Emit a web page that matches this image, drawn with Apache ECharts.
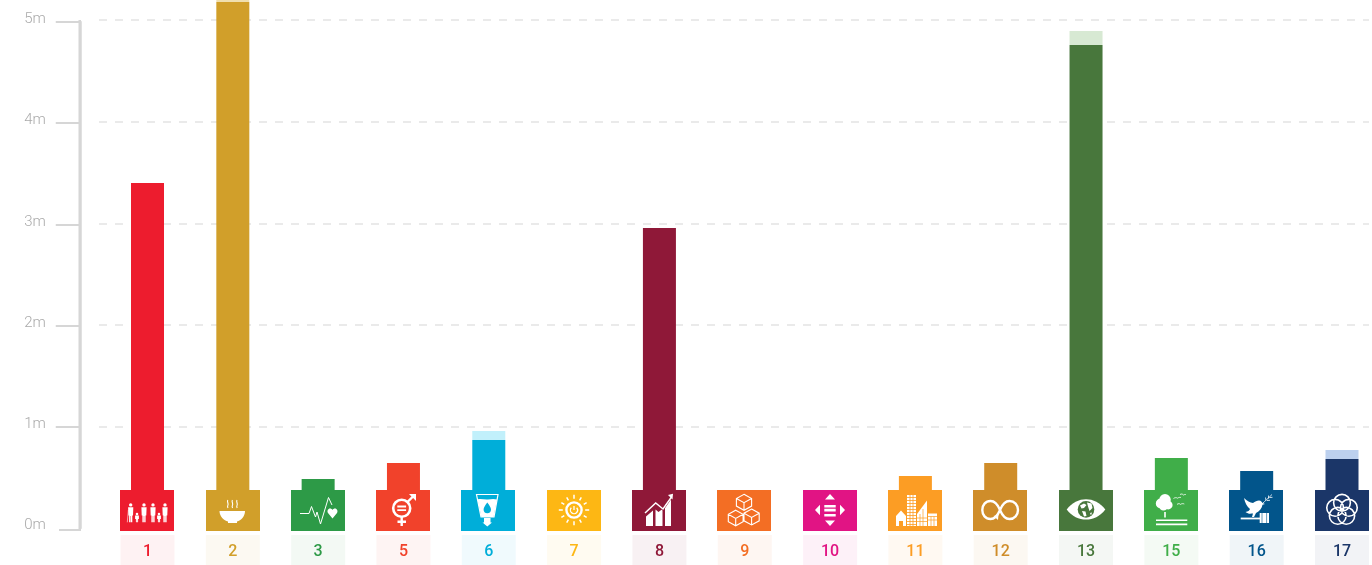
<!DOCTYPE html>
<html><head><meta charset="utf-8">
<style>html,body{margin:0;padding:0;background:#fff}#c{width:1372px;height:565px}</style>
<script src="https://cdn.jsdelivr.net/npm/echarts@6/dist/echarts.min.js"></script>
</head><body><div id="c"></div>
<script>
const categories = ['1','2','3','5','6','7','8','9','10','11','12','13','15','16','17'];
const mainValues = [3.409,5.198,0.484,0.642,0.870,0,2.964,0,0,0.514,0.642,4.773,0.692,0.563,0.682];
const extraValues = [0,0.03,0,0,0.089,0,0,0,0,0,0,0.138,0,0,0.089];
const goalColors = ['#ed1c2e','#d19f2a','#2d9a47','#f1422b','#00aed9','#fdb714','#8f1838','#f36e24','#e11484','#fc9d24','#cf8d2a','#48773c','#40ae49','#02558b','#1b3668'];
const extraColors = ['#f9c6cb','#f0dfae','#c5e8cd','#fbcfc9','#c1f0fb','#ffedc2','#e3c5ce','#fcdcc8','#f8c5e0','#fee6c8','#f2e2ca','#d7e9d3','#cfebd2','#c0d5e2','#bcd0ee'];
const valueTicks = ['0m','1m','2m','3m','4m','5m'];

/* ---------- white pictograms, drawn in a 54 x 41 tile ---------- */
const F = (d, fill) => ({ d, fill: fill || '#fff' });
const S = (d, w, stroke) => ({ d, w: w || 1, stroke: stroke || '#fff' });
const TILE = '@';
const circ = (x, y, r) => `M${x-r} ${y}A${r} ${r} 0 1 0 ${x+r} ${y}A${r} ${r} 0 1 0 ${x-r} ${y}Z`;
const rect = (x, y, w, h) => `M${x} ${y}H${x+w}V${y+h}H${x}Z`;
const big = x => circ(x,14.9,1.7) + `M${x-2.6} 17.2H${x+2.6}L${x+2.3} 25.5L${x+1.6} 25.5V32.3H${x+.2}V26H${x-.2}V32.3H${x-1.6}V25.5H${x-2.3}Z`;
const small = x => circ(x,24,1.3) + `M${x-1.9} 25.6H${x+1.9}V29H${x+1.1}V32.3H${x+.15}V29.5H${x-.15}V32.3H${x-1.1}V29H${x-1.9}Z`;
const cube = (cx, cy, s) => {
  const h = s * 1.05, q = s * .55;
  return `M${cx} ${cy-h}L${cx+s} ${cy-h+q}V${cy+h-q}L${cx} ${cy+h}L${cx-s} ${cy+h-q}V${cy-h+q}Z` +
         `M${cx-s} ${cy-h+q}L${cx} ${cy-h+2*q}L${cx+s} ${cy-h+q}M${cx} ${cy-h+2*q}V${cy+h}`;
};
const rays = (() => { let d = ''; for (let i = 0; i < 12; i++) { const a = i * Math.PI / 6, c = Math.cos(a), s = Math.sin(a);
  const r0 = 11.2, r1 = i % 3 === 0 ? 15.2 : 14.6;
  d += `M${(27+c*r0).toFixed(2)} ${(20+s*r0).toFixed(2)}L${(27+c*r1).toFixed(2)} ${(20+s*r1).toFixed(2)}`; } return d; })();
const petals = (() => { let d = ''; for (let i = 0; i < 5; i++) { const a = (-90 + 72 * i) * Math.PI / 180;
  d += circ(+(27+Math.cos(a)*7.2).toFixed(2), +(20+Math.sin(a)*7.2).toFixed(2), 8.4); } return d; })();
const grid11 = (() => { let d = ''; for (let y = 7.5; y < 35; y += 3) d += `M19 ${y}H28`; for (const x of [22,25]) d += `M${x} 5V36`; return d; })();
const icons = [
  [F(big(10.7)+small(17)+big(24)+big(33)+small(39)+big(45)), S('M7.3 32.3L8.4 20',.6)],
  [F('M13.5 21H39C39 26.5 35 30.5 31 31.4V33H22V31.4C18 30.5 13.5 26.5 13.5 21Z'),
   S('M21.8 10C20.6 12 23 13.5 21.8 15.5C21.3 16.5 21.6 17.3 22 18M26.4 10C25.2 12 27.6 13.5 26.4 15.5C25.9 16.5 26.2 17.3 26.6 18M31 10C29.8 12 32.2 13.5 31 15.5C30.5 16.5 30.8 17.3 31.2 18',1.1)],
  [S('M9 23.5H18L20.5 16.5L24.5 27L26 22L29.5 34L37.5 7.5L41 15',1),
   F('M41.5 28.5L37 23C35.8 21 37 18.5 39 18.5C40.2 18.5 41 19 41.5 20C42 19 42.8 18.5 44 18.5C46 18.5 47.2 21 46 23Z')],
  [S(circ(25.7,18.3,8.5),2.6), F(rect(21.3,15.6,8.8,1.9)+rect(21.3,19.2,8.8,1.9)),
   S('M25.7 27V36M21.5 31.8H30M31.5 12L38 5.5',2.4), F('M33 4H40V11L37.6 8.6L35.4 6.4Z')],
  [S('M15.5 4.5H37L33 27H20Z',1.2), F('M16.5 9.5C20 8.4 24 10 27 9.5C30 9 33 8.5 36 9.5L32.6 27H20.4Z'),
   F('M26.3 12.5C28.5 15.5 30 17.5 30 19.5A3.7 3.7 0 0 1 22.6 19.5C22.6 17.5 24.1 15.5 26.3 12.5Z', TILE),
   F('M23 28H29.5V32.5H31L26.3 36.5L21.5 32.5H23Z')],
  [S(circ(27,20,7.6),2.4), S(rays,1.5),
   S('M24.3 17.7A3.6 3.6 0 1 0 29.7 17.7M27 16V20',1.3)],
  [F('M14 36V26.5L21 20.5V36ZM23.5 36V19.5L26.5 22L30.5 19V36ZM33 36V15L39 8.5V36Z'),
   S('M13 24L23.7 13.5L31 19.5L40 6.5',1.8,TILE), S('M13 23L23.7 13L31 19L39.5 7',1.5), F('M36 5L41 3.8L40.5 9.5Z')],
  [S(cube(27,12.3,7.6)+cube(18.7,28,7.4)+cube(34.6,27,7.6),1.1)],
  [F('M22 9.4L27 4L32 9.4ZM22 30.6H32L27 36ZM17 14.8V25.2L12 20ZM37 14.8L42 20L37 25.2Z'),
   F(rect(21.3,15,11.4,2.6)+rect(21.3,18.8,11.4,2.6)+rect(21.3,24,11.4,2.6))],
  [F('M8 36V26L13 20.5L18 26V36H15V31H11V36Z'), F('M19 5H28V36H19Z'), S(grid11,.8,TILE),
   F('M29 36V24L39 10.5V36Z'), S('M32 24V36M35 19V36M29 28H39M29 31.5H39',.7,TILE),
   F('M40 23.5H49V36H40Z'), S('M40 26.5H49M40 30H49M43 26.5V36M46 26.5V36',.7,TILE)],
  [S('M27 20C24.5 14 21 11 17.5 11C12.5 11 9.3 15 9.3 20C9.3 25 12.5 29 17.5 29C21 29 24.5 26 27 20C29.5 14 33 11 36.5 11C41.5 11 45 15 45 20C45 25 41.5 29 36.5 29C33 29 29.5 26 27 20Z',2.4),
   F('M20.5 26L25.5 24.5L25 30Z')],
  [F('M7.7 19.5C13 12.5 20 9.3 27 9.3C34 9.3 41 12.5 46.3 19.5C41 26.5 34 29.6 27 29.6C20 29.6 13 26.5 7.7 19.5Z'),
   F(circ(27,19.4,8.3), TILE),
   F('M21 15.5L25 13.5L27.5 15L25 18L22.5 18.5ZM28 12.5L32.5 13.5L33.5 18L30.5 21L29 16.5ZM23 21L26.5 21.5L27.5 26L25 26.5ZM31 23L33 22.5L32 25.5Z')],
  [F(circ(16.7,13.5,4.9)+circ(21,9.8,5.8)+circ(24.2,15,4.4)+circ(19.5,16,4.5)), F(rect(20.2,22,1.6,5.5)),
   F(rect(12,29.4,31.3,1.6)+rect(12,33.6,31.3,1.6)),
   S('M29.5 8.5C31 7.4 32.5 7.4 33.5 8.2C34.5 7.4 36 7.2 37 7.5M36 4.5C37.5 3.6 38.5 4 39.5 5C40.5 4.4 41.5 4.4 42 4.7M33 14.4C34.5 13.4 35.5 13.4 36.5 14.4C37.5 13.6 39 13.4 40.3 14',.8)],
  [F('M15 8C18 11 21 12.5 24 13C26 11.5 28 10.5 30 10.5C32 10.5 33 12 33.5 13L36 14L33.5 14.8C33 18 30.5 21.5 27 23L25 27H23L24 23.5C22 23.5 19.5 24.5 16.5 22C19 21.5 20.5 20.5 21 19C18 16.5 16 13 15 8Z'),
   F(rect(11.7,27.6,20,1.8)), F('M30.7 23H40V33H30.7Z'), S('M33 23V33M37.6 23V33',.6,TILE),
   S('M33.5 13.5C36 11 39 8.5 43 4.5M37 10.5L36.5 7.5M39.5 8.5L39.5 5.5M38 10.5L41 10.3M40.5 7.5L43.5 7.3',.8)],
  [S(petals,1.6)]
];

function renderTile(params, api) {
  const i = api.value(0), c = api.coord([i, 0]);
  const left = Math.round(c[0] - 27.3), top = Math.round(c[1]) - 38, color = goalColors[i];
  const children = [{ type: 'rect', shape: { x: left, y: top, width: 54, height: 41 }, style: { fill: color } }];
  icons[i].forEach(p => children.push({
    type: 'path', x: left, y: top, shape: { pathData: p.d },
    style: p.w ? { fill: 'none', stroke: p.stroke === TILE ? color : p.stroke, lineWidth: p.w, lineJoin: 'miter' }
               : { fill: p.fill === TILE ? color : p.fill }
  }));
  return { type: 'group', children };
}

const rich = {};
goalColors.forEach((col, i) => {
  rich['g' + i] = { color: col, backgroundColor: col + '0f', width: 54, height: 26, lineHeight: 26, padding: [4, 0, 0, 0], align: 'center',
    fontFamily: 'Roboto', fontSize: 16, fontWeight: 500 };
});

const AXIS = '#d6d6d6';
const chart = echarts.init(document.getElementById('c'), null, { renderer: 'canvas' });
chart.setOption({
  animation: false,
  backgroundColor: '#fff',
  grid: [
    { left: 147.5, width: 1194.9, top: 22, height: 506 },
    { left: 99, right: 3, top: 20.2, height: 507.8 }
  ],
  xAxis: [
    { type: 'category', gridIndex: 0, data: categories, boundaryGap: false,
      axisLine: { show: false }, axisTick: { show: false },
      axisLabel: { interval: 0, margin: 9, formatter: (v, i) => `{g${i}|${v}}`, rich } },
    { type: 'value', gridIndex: 1, show: false, min: 0, max: 1 }
  ],
  yAxis: [
    { type: 'value', gridIndex: 0, min: 0, max: 5, interval: 1, offset: 67.75,
      axisLine: { show: true, lineStyle: { color: AXIS, width: 2.5 } },
      axisTick: { show: true, length: 24, customValues: [1, 2, 3, 4, 5], lineStyle: { color: AXIS, width: 2 } },
      splitLine: { show: false },
      axisLabel: { color: '#aaaaaa', fontFamily: 'Roboto', fontWeight: 300, fontSize: 15, margin: 34,
        verticalAlign: 'bottom', lineHeight: 5, formatter: v => valueTicks[v] } },
    { type: 'value', gridIndex: 1, min: 0, max: 5, interval: 1,
      axisLine: { show: false }, axisTick: { show: false }, axisLabel: { show: false },
      splitLine: { show: true, showMinLine: false, lineStyle: { color: '#e4e4e4', width: 1.5, type: [8, 8] } } }
  ],
  graphic: [
    { type: 'line', shape: { x1: 79.75, y1: 20, x2: 79.75, y2: 531 }, style: { stroke: AXIS, lineWidth: 2.5 } },
    { type: 'line', shape: { x1: 59, y1: 530, x2: 80, y2: 530 }, style: { stroke: AXIS, lineWidth: 2 } }
  ],
  series: [
    { type: 'bar', name: 'main', xAxisIndex: 0, yAxisIndex: 0, stack: 's', barWidth: 33, clip: false, z: 3,
      data: mainValues.map((v, i) => ({ value: v, itemStyle: { color: goalColors[i] } })) },
    { type: 'bar', name: 'extra', xAxisIndex: 0, yAxisIndex: 0, stack: 's', barWidth: 33, clip: false, z: 3,
      data: extraValues.map((v, i) => ({ value: v, itemStyle: { color: extraColors[i] } })) },
    { type: 'custom', name: 'tiles', xAxisIndex: 0, yAxisIndex: 0, clip: false, z: 5,
      renderItem: renderTile, encode: { x: 0, y: 1 },
      data: categories.map((c, i) => [i, 0]) }
  ]
});
</script></body></html>
